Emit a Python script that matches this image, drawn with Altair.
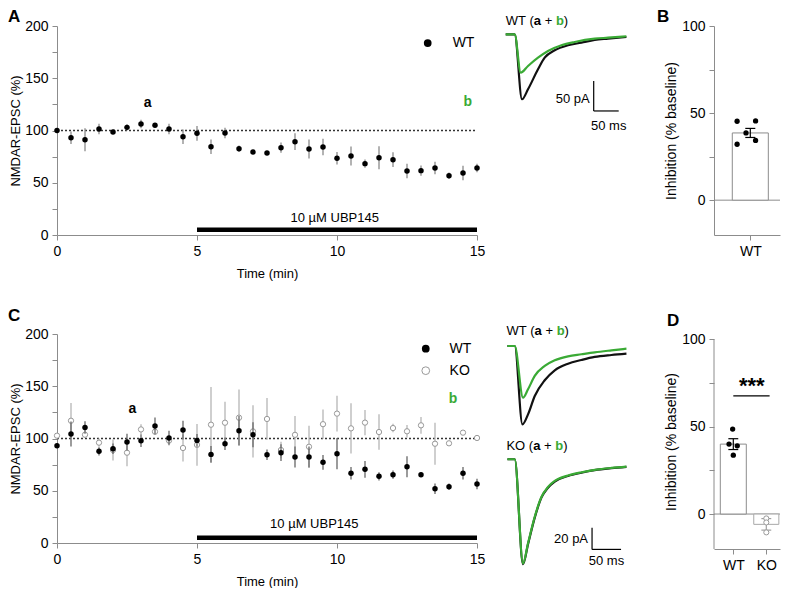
import altair as alt
import pandas as pd

FONT = "Liberation Sans"
AX = "#8c8c8c"
GREEN = "#3aaa35"
BLACK = "#111111"

# ---------------- time-course data ----------------
TIME = [0, 0.5, 1, 1.5, 2, 2.5, 3, 3.5, 4, 4.5, 5, 5.5, 6, 6.5, 7, 7.5,
        8, 8.5, 9, 9.5, 10, 10.5, 11, 11.5, 12, 12.5, 13, 13.5, 14, 14.5, 15]
A_WT_MEAN = [100, 93.1, 91.2, 101.4, 98.6, 103, 106.2, 105, 101.4, 94, 97.3, 84.5, 97.6, 82.6, 79.4, 78.5,
             83.6, 89.3, 82.3, 84.2, 73.4, 75.6, 68.3, 74, 72.1, 61.2, 61.6, 64.1, 56.8, 59.3, 64.1]
A_WT_SEM = [0, 6, 11, 5, 2, 3, 4, 2, 5, 7, 7, 7, 5, 3, 2, 2,
            5, 8, 9, 8, 6, 9, 4, 11, 7, 7, 5, 6, 3, 7, 4]
C_WT_MEAN = [93.1, 104.3, 110.6, 87.7, 90.2, 96.6, 97.9, 112, 100.5, 108.1, 98.2, 84.8, 95, 107.5, 103.6, 84.5,
             86.4, 82.3, 82.3, 77.2, 85.5, 66.7, 70.5, 63.8, 65.4, 73, 65.4, 52, 53.9, 66.7, 56.5]
C_WT_SEM = [0, 12, 6, 4, 5, 8, 6, 8, 7, 9, 6, 8, 6, 14, 12, 5,
            8, 10, 10, 7, 15, 6, 8, 4, 4, 10, 2, 5, 3, 6, 5]
C_KO_MEAN = [102.7, 117, 103.6, 96, 89, 86.4, 108.7, 106.5, 98, 90.9, 93.9, 113.2, 115.1, 119.9, 106.8, 118.7,
             89, 103.5, 92.1, 113.7, 123.8, 109.7, 115.2, 106.2, 110, 106.9, 112.6, 95, 95.4, 105.6, 100.5]
C_KO_SEM = [0, 17, 3, 4, 10, 13, 5, 3, 3, 13, 20, 36, 20, 27, 25, 20,
            8, 18, 20, 14, 17, 24, 12, 17, 4, 6, 8, 20, 2, 2, 1]
T_TICKS = [0, 5, 10, 15]
V_TICKS = [0, 25, 50, 75, 100, 125, 150, 175, 200]
DRUG_LABEL = "10 µM UBP145"

# ---------------- bar data ----------------
B_GROUPS = ["WT"]
B_MEAN = [38.6]
B_SEM = [2.6]
B_POINTS = [45.3, 45.5, 38.6, 32.1, 34.3]
B_JITTER = [-0.2, 0.08, -0.065, -0.2, 0.08]

D_GROUPS = ["WT", "KO"]
D_MEAN = [40.0, -5.9]
D_SEM = [3.1, 3.3]
D_WT_POINTS = [48.6, 40.0, 39.0, 33.7]
D_WT_JITTER = [-0.02, -0.13, 0.12, 0.0]
D_KO_POINTS = [-2.5, -4.8, -10.5]
D_KO_JITTER = [0.0, 0.0, 0.0]
INH_TICKS = [0, 25, 50, 75, 100]

# ---------------- example traces (ms, pA) ----------------
TA_BLACK_MS = [0, 18, 32.6, 44.6, 64.6, 78, 98, 124.6, 151.4, 178, 204.6, 241.4]
TA_BLACK_PA = [0, 0, -108.3, -91.7, -58.3, -39, -26.7, -18.3, -14, -9.5, -7.3, -4.5]
TA_GREEN_MS = [0, 18, 30, 44.6, 64.6, 84.6, 111.4, 138, 178, 204.6, 241.4]
TA_GREEN_PA = [0, 0, -64, -52.8, -39, -27.8, -18.3, -12.8, -7.3, -5.7, -3.3]

TC_WT_BLACK_MS = [0, 12.6, 25.9, 35.5, 47.1, 64.3, 81.6, 104.5, 127.6, 150.5, 179.3, 205.2]
TC_WT_BLACK_PA = [0, 0, -72.2, -63, -46.1, -31.6, -22.4, -16.3, -12.9, -10.1, -8.3, -7.1]
TC_WT_GREEN_MS = [0, 12.6, 26.9, 35.5, 47.1, 64.3, 81.6, 104.5, 127.6, 150.5, 179.3, 205.2]
TC_WT_GREEN_PA = [0, 0, -47.6, -39.9, -27.6, -18.4, -13.2, -9.5, -7.6, -5.8, -4, -2.5]
TC_KO_MS = [0, 12.6, 26.9, 35.5, 47.1, 58.6, 70, 81.6, 104.5, 127.6, 150.5, 179.3, 205.2]
TC_KO_BLACK_PA = [0, 0, -96.8, -78.3, -53.8, -35.4, -26.2, -20.6, -15.4, -12.4, -10.1, -8.3, -7.1]
TC_KO_GREEN_PA = [0, 0, -96, -77.5, -53, -34.8, -25.5, -20, -15, -12, -9.8, -8, -6.8]

NOVIEW = alt.ViewBackground(stroke=None, fill=None)


def D(**cols):
    return pd.DataFrame(cols)


def letter(ch, x, y):
    return alt.Chart(D(s=[ch])).mark_text(
        align="left", baseline="top", fontSize=17, fontWeight="bold", color="black"
    ).encode(x=alt.value(x), y=alt.value(y), text="s:N")


# ================= time-course panels =================
def timecourse(panel, panel_y, series, legend, a_pos, b_pos, drug_pos):
    xs = alt.Scale(domain=[0, 15], nice=False, zero=False)
    ys = alt.Scale(domain=[0, 200], nice=False, zero=False)
    xax = alt.Axis(values=T_TICKS, title="Time (min)", grid=False, tickSize=5, labelPadding=4,
                   titlePadding=9, domainColor=AX, tickColor=AX, labelFontSize=14,
                   titleFontSize=13, titleFontWeight="normal", labelFlush=False, labelOverlap=False)
    yax = alt.Axis(values=V_TICKS, labelExpr="datum.value % 50 === 0 ? datum.label : ''",
                   title="NMDAR-EPSC (%)", grid=False, tickSize=5, labelPadding=4, titlePadding=2,
                   domainColor=AX, tickColor=AX, labelFontSize=14, titleFontSize=13,
                   titleFontWeight="normal", labelOverlap=False)

    def X(f="t"):
        return alt.X(f + ":Q", scale=xs, axis=xax)

    def Y(f="v"):
        return alt.Y(f + ":Q", scale=ys, axis=yax)

    layers = []
    layers.append(alt.Chart(D(t=[0], t2=[15], v=[100])).mark_rule(
        color="#333333", strokeDash=[2, 2], strokeWidth=1.3).encode(x=X(), x2="t2:Q", y=Y()))
    layers.append(alt.Chart(D(t=[5], t2=[15], v=[5])).mark_rule(
        color="black", strokeWidth=4.5).encode(x=X(), x2="t2:Q", y=Y()))
    layers.append(alt.Chart(D(t=[drug_pos[0]], v=[drug_pos[1]], s=[DRUG_LABEL])).mark_text(
        fontSize=13, baseline="middle", color="black").encode(x=X(), y=Y(), text="s:N"))

    for mean, sem, kind in series:
        d = D(t=TIME, v=mean, lo=[m - s for m, s in zip(mean, sem)],
              hi=[m + s for m, s in zip(mean, sem)])
        ecol = "#b5b5b5" if kind == "open" else ("#8a8a8a" if panel == "A" else "#666666")
        layers.append(alt.Chart(d).mark_rule(color=ecol, strokeWidth=1.3).encode(
            x=X(), y=Y("lo"), y2="hi:Q"))
        if kind == "open":
            layers.append(alt.Chart(d).mark_point(shape="circle", size=28, filled=True, fill="white",
                                                  stroke="#999999", strokeWidth=1, opacity=1).encode(
                x=X(), y=Y()))
        else:
            layers.append(alt.Chart(d).mark_circle(size=30, color="black", opacity=1).encode(
                x=X(), y=Y()))

    for (lx, ly, tx, name, kind) in legend:
        if kind == "open":
            layers.append(alt.Chart(D(t=[lx], v=[ly])).mark_point(
                shape="circle", size=60, filled=True, fill="white", stroke="#9a9a9a",
                strokeWidth=1, opacity=1).encode(x=X(), y=Y()))
        else:
            layers.append(alt.Chart(D(t=[lx], v=[ly])).mark_circle(
                size=60, color="black", opacity=1).encode(x=X(), y=Y()))
        layers.append(alt.Chart(D(t=[tx], v=[ly], s=[name])).mark_text(
            align="left", baseline="middle", fontSize=14, color="black").encode(
            x=X(), y=Y(), text="s:N"))

    layers.append(alt.Chart(D(t=[a_pos[0]], v=[a_pos[1]], s=["a"])).mark_text(
        fontSize=14, fontWeight="bold", color="black", baseline="middle").encode(
        x=X(), y=Y(), text="s:N"))
    layers.append(alt.Chart(D(t=[b_pos[0]], v=[b_pos[1]], s=["b"])).mark_text(
        fontSize=14, fontWeight="bold", color=GREEN, baseline="middle").encode(
        x=X(), y=Y(), text="s:N"))
    layers.append(letter(panel, -49, panel_y))
    return alt.layer(*layers).properties(width=420, height=209, view=NOVIEW)


chartA = timecourse("A", -17, [(A_WT_MEAN, A_WT_SEM, "filled")],
                    [(13.24, 183.7, 14.13, "WT", "filled")],
                    (3.24, 126.3), (14.67, 127.3), (9.92, 16.3))
chartC = timecourse("C", -26, [(C_KO_MEAN, C_KO_SEM, "open"), (C_WT_MEAN, C_WT_SEM, "filled")],
                    [(13.17, 185.9, 14.02, "WT", "filled"), (13.17, 164.9, 14.02, "KO", "open")],
                    (2.69, 128.2), (14.14, 137.8), (9.19, 18.2))


# ================= trace panels =================
def title_pieces(first, x0, y0, X, Y):
    if first == "WT":
        pieces = [("WT", 0, "normal", "black"), ("(", 23.8, "normal", "black"),
                  ("a", 28.1, "bold", "black"), ("+", 39.0, "normal", "black"),
                  ("b", 50.2, "bold", GREEN), (")", 58.1, "normal", "black")]
    else:
        pieces = [("KO", 0, "normal", "black"), ("(", 22.4, "normal", "black"),
                  ("a", 26.7, "bold", "black"), ("+", 37.6, "normal", "black"),
                  ("b", 48.8, "bold", GREEN), (")", 56.7, "normal", "black")]
    out = []
    for s, off, w, c in pieces:
        out.append(alt.Chart(D(ms=[x0], pa=[y0], s=[s])).mark_text(
            align="left", baseline="middle", dx=off, fontSize=13, fontWeight=w, color=c).encode(
            x=X(), y=Y(), text="s:N"))
    return out


def scalebar(x0, y_top, dx_ms, dy_pa, ylab, xlab, X, Y, ylab_y, xlab_x, xlab_y):
    y_bot = y_top - dy_pa
    out = [
        alt.Chart(D(ms=[x0], pa=[y_top], pa2=[y_bot])).mark_rule(color="black", strokeWidth=1.2).encode(
            x=X(), y=Y(), y2="pa2:Q"),
        alt.Chart(D(ms=[x0], ms2=[x0 + dx_ms], pa=[y_bot])).mark_rule(color="black", strokeWidth=1.2).encode(
            x=X(), x2="ms2:Q", y=Y()),
        alt.Chart(D(ms=[x0], pa=[ylab_y], s=[ylab])).mark_text(
            align="right", baseline="middle", dx=-4, fontSize=13, color="black").encode(
            x=X(), y=Y(), text="s:N"),
        alt.Chart(D(ms=[xlab_x], pa=[xlab_y], s=[xlab])).mark_text(
            align="center", baseline="middle", fontSize=13, color="black").encode(
            x=X(), y=Y(), text="s:N"),
    ]
    return out


def trace_line(ms, pa, color, X, Y, offset=0.0):
    d = D(ms=ms, pa=[p + offset for p in pa])
    return alt.Chart(d).mark_line(color=color, strokeWidth=2.2, interpolate="monotone").encode(
        x=X(), y=Y())


# Row 1 traces
txs1 = alt.Scale(domain=[-27.4, 386.6], nice=False, zero=False)
tys1 = alt.Scale(domain=[-334.5, 13.8], nice=False, zero=False)


def X1():
    return alt.X("ms:Q", scale=txs1, axis=None)


def Y1():
    return alt.Y("pa:Q", scale=tys1, axis=None)


tr1_layers = [trace_line(TA_BLACK_MS, TA_BLACK_PA, BLACK, X1, Y1),
              trace_line(TA_GREEN_MS, TA_GREEN_PA, GREEN, X1, Y1)]
tr1_layers += title_pieces("WT", 0, 22.2, X1, Y1)
tr1_layers += scalebar(176, -77.8, 50, 50, "50 pA", "50 ms", X1, Y1, -107.3, 206, -152.8)
traceA = alt.layer(*tr1_layers).properties(width=207, height=209, view=NOVIEW)

# Row 2 traces
KO_OFFSET = -104.4
txs2 = alt.Scale(domain=[-26.6, 330.3], nice=False, zero=False)
tys2 = alt.Scale(domain=[-181.6, 11.06], nice=False, zero=False)


def X2():
    return alt.X("ms:Q", scale=txs2, axis=None)


def Y2():
    return alt.Y("pa:Q", scale=tys2, axis=None)


tr2_layers = [trace_line(TC_WT_BLACK_MS, TC_WT_BLACK_PA, BLACK, X2, Y2),
              trace_line(TC_WT_GREEN_MS, TC_WT_GREEN_PA, GREEN, X2, Y2),
              trace_line(TC_KO_MS, TC_KO_BLACK_PA, BLACK, X2, Y2, KO_OFFSET),
              trace_line(TC_KO_MS, TC_KO_GREEN_PA, GREEN, X2, Y2, KO_OFFSET)]
tr2_layers += title_pieces("WT", -1.7, 13.8, X2, Y2)
tr2_layers += title_pieces("KO", -1.7, -92.2, X2, Y2)
tr2_layers += scalebar(145.9, -167.5, 50, 20, "20 pA", "50 ms", X2, Y2, -178.2, 170.7, -198.2)
traceC = alt.layer(*tr2_layers).properties(width=207, height=209, view=NOVIEW)


# ================= bar panels =================
def bar_panel(panel, groups, means, sems, point_sets, xdom, ydom, height, half_w, cap_w,
              panel_x, panel_y, custom_yline, extras):
    xs = alt.Scale(domain=xdom, nice=False, zero=False)
    ys = alt.Scale(domain=ydom, nice=False, zero=False)
    label_expr = "[" + ",".join("'%s'" % g for g in groups) + "][datum.value]"
    xax = alt.Axis(values=list(range(len(groups))), labelExpr=label_expr, title=None, grid=False,
                   tickSize=5, labelPadding=4, domainColor=AX, tickColor=AX, labelFontSize=14,
                   labelFlush=False, labelOverlap=False)
    yax = alt.Axis(values=INH_TICKS, labelExpr="datum.value % 50 === 0 ? datum.label : ''",
                   title="Inhibition (% baseline)", grid=False, tickSize=5, labelPadding=4,
                   titlePadding=3, domain=not custom_yline, domainColor=AX, tickColor=AX,
                   labelFontSize=14, titleFontSize=14, titleFontWeight="normal", labelOverlap=False)

    def X(f="gx"):
        return alt.X(f + ":Q", scale=xs, axis=xax)

    def Y(f="val"):
        return alt.Y(f + ":Q", scale=ys, axis=yax)

    layers = []
    if custom_yline:
        layers.append(alt.Chart(D(val=[ydom[0]], val2=[100])).mark_rule(color=AX, strokeWidth=1).encode(
            x=alt.value(0), y=Y(), y2="val2:Q"))
    layers.append(alt.Chart(D(gx=[xdom[0]], gx2=[xdom[1]], val=[0])).mark_rule(
        color=AX, strokeWidth=1).encode(x=X(), x2="gx2:Q", y=Y()))
    for i, (m, s) in enumerate(zip(means, sems)):
        stroke = AX if groups[i] == "WT" else "#a8a8a8"
        ecol = "black" if groups[i] == "WT" else "#a0a0a0"
        layers.append(alt.Chart(D(gx=[i - half_w[i]], gx2=[i + half_w[i]], val=[0], val2=[m])).mark_rect(
            fill="white", stroke=stroke, strokeWidth=1).encode(x=X(), x2="gx2:Q", y=Y(), y2="val2:Q"))
        layers.append(alt.Chart(D(gx=[i], val=[m - s], val2=[m + s])).mark_rule(
            color=ecol, strokeWidth=1.2).encode(x=X(), y=Y(), y2="val2:Q"))
        layers.append(alt.Chart(D(gx=[i - cap_w, i - cap_w], gx2=[i + cap_w, i + cap_w],
                                  val=[m - s, m + s])).mark_rule(color=ecol, strokeWidth=1.2).encode(
            x=X(), x2="gx2:Q", y=Y()))
    for gi, vals, jit, kind in point_sets:
        d = D(gx=[gi + j for j in jit], val=vals)
        if kind == "open":
            layers.append(alt.Chart(d).mark_point(shape="circle", size=26, filled=True, fill="white",
                                                  stroke="#9a9a9a", strokeWidth=1, opacity=1).encode(
                x=X(), y=Y()))
        else:
            layers.append(alt.Chart(d).mark_circle(size=28, color="black", opacity=1).encode(
                x=X(), y=Y()))
    for e in extras:
        layers.append(e(X, Y))
    layers.append(letter(panel, panel_x, panel_y))
    return alt.layer(*layers).properties(width=66, height=height, view=NOVIEW)


chartB = bar_panel("B", B_GROUPS, B_MEAN, B_SEM,
                   [(0, B_POINTS, B_JITTER, "filled")],
                   [-0.55, 0.45], [-20, 100], 209, [0.273], 0.076, -57, -17, False, [])


def sig_line(X, Y):
    return alt.Chart(D(gx=[0.0], gx2=[1.1], val=[67.6])).mark_rule(color="black", strokeWidth=1.3).encode(
        x=X(), x2="gx2:Q", y=Y())


def sig_text(X, Y):
    return alt.Chart(D(gx=[0.56], val=[67.6], s=["***"])).mark_text(
        fontSize=22, fontWeight="bold", baseline="alphabetic", dy=-3, color="black").encode(
        x=X(), y=Y(), text="s:N")


chartD = bar_panel("D", D_GROUPS, D_MEAN, D_SEM,
                   [(0, D_WT_POINTS, D_WT_JITTER, "filled"), (1, D_KO_POINTS, D_KO_JITTER, "open")],
                   [-0.585, 1.415], [-20, 103], 215, [0.394, 0.38], 0.15, -47, -21, True,
                   [sig_line, sig_text])

chart = alt.concat(chartA, traceA, chartB, chartC, traceC, chartD, columns=3,
                   spacing={"row": 99, "column": 15}, bounds="flush", align="each").properties(
    padding=0).configure_view(stroke=None).configure(font=FONT)

chart.save("out.html", embed_options={"renderer": "svg", "actions": False})
